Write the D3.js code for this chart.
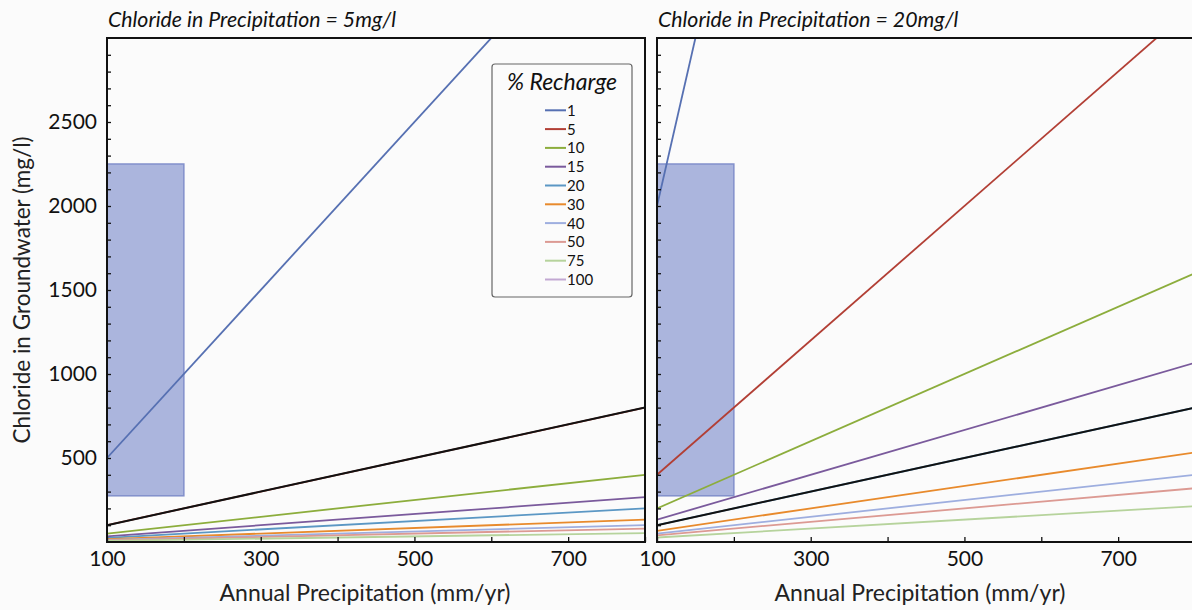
<!DOCTYPE html>
<html>
<head>
<meta charset="utf-8">
<script src="https://cdn.jsdelivr.net/npm/d3@7/dist/d3.min.js"></script>
<style>
  html, body { margin: 0; padding: 0; background: #fbfbfb; }
  svg { display: block; font-family: Lato, "Open Sans", sans-serif; }
</style>
</head>
<body>
<svg id="chart" width="1192" height="610"></svg>
<script>
// Recharge scenarios (% of annual precipitation)
const rechargePct = [1, 5, 10, 15, 20, 30, 40, 50, 75, 100];
const seriesColors = ["#5670b2", "#b23f35", "#8cad3c", "#7a5a9c", "#5b97c4",
                      "#e88a2c", "#9eaedf", "#dc9a93", "#b6d39c", "#c2a8d2"];

// Precipitation range covered by every line (mm/yr)
const precipRange = [100, 800];

// Chloride in precipitation for each panel (mg/l)
const precipChloride = [5, 20];
const panelTitles = ["Chloride in Precipitation = 5mg/l", "Chloride in Precipitation = 20mg/l"];

// Groundwater chloride (mg/l) at 100 and 800 mm/yr, one entry per recharge scenario
// (null: scenario listed in the legend but not plotted)
const gwStart5  = [500, 100, 50, 33.3, 25, 16.7, 12.5, 10, 6.7, null];
const gwEnd5    = [4000, 800, 400, 266.7, 200, 133.3, 100, 80, 53.3, null];
const gwStart20 = [2000, 400, 200, 133.3, 100, 66.7, 50, 40, 26.7, null];
const gwEnd20   = [16000, 3200, 1600, 1066.7, 800, 533.3, 400, 320, 213.3, null];

// Reference line (black) at 100 and 800 mm/yr
const refStart = 100, refEnd = 800;

// Shaded observation window: precipitation and groundwater chloride bounds
const boxPrecip = [100, 200];
const boxChloride = [275, 2250];

// Axis ticks
const xTickLabels = [100, 300, 500, 700];
const xMinorTicks = [100, 200, 300, 400, 500, 600, 700, 800];
const yTickLabels = [500, 1000, 1500, 2000, 2500];
const yMinorTicks = d3.range(100, 3000, 100);

const svg = d3.select("#chart");
const W = 538, plotTop = 38, plotBottom = 542;
const panelLeft = [107, 657];
const panelStarts = [gwStart5, gwStart20];
const panelEnds = [gwEnd5, gwEnd20];

const y = d3.scaleLinear().domain([0, 3000]).range([plotBottom, plotTop]);

panelLeft.forEach((x0, p) => {
  const x = d3.scaleLinear().domain(precipRange).range([x0, x0 + W]);
  const g = svg.append("g");

  const clipId = "clip" + p;
  svg.append("clipPath").attr("id", clipId)
    .append("rect").attr("x", x0).attr("y", plotTop).attr("width", W).attr("height", plotBottom - plotTop);

  const plot = g.append("g").attr("clip-path", `url(#${clipId})`);

  // shaded window
  plot.append("rect")
    .attr("x", x(boxPrecip[0])).attr("y", y(boxChloride[1]))
    .attr("width", x(boxPrecip[1]) - x(boxPrecip[0]))
    .attr("height", y(boxChloride[0]) - y(boxChloride[1]))
    .attr("fill", "#5b6fc0").attr("fill-opacity", 0.5)
    .attr("stroke", "#8290cb").attr("stroke-width", 1.5);

  const line = d3.line().x(d => x(d[0])).y(d => y(d[1]));

  rechargePct.forEach((r, i) => {
    if (panelStarts[p][i] == null) return;
    plot.append("path")
      .datum([[precipRange[0], panelStarts[p][i]], [precipRange[1], panelEnds[p][i]]])
      .attr("d", line)
      .attr("fill", "none")
      .attr("stroke", seriesColors[i])
      .attr("stroke-width", 1.8);
  });

  plot.append("path")
    .datum([[precipRange[0], refStart], [precipRange[1], refEnd]])
    .attr("d", line)
    .attr("fill", "none").attr("stroke", "#111").attr("stroke-width", 2);

  // inward minor ticks
  const yMinor = g.append("g").attr("transform", `translate(${x0},0)`)
    .call(d3.axisRight(y).tickValues(yMinorTicks).tickSize(4).tickFormat(""));
  yMinor.select(".domain").remove();
  yMinor.selectAll("line").attr("stroke", "#111").attr("stroke-width", 1.3);

  const xMinor = g.append("g").attr("transform", `translate(0,${plotBottom})`)
    .call(d3.axisTop(x).tickValues(xMinorTicks).tickSize(5).tickFormat(""));
  xMinor.select(".domain").remove();
  xMinor.selectAll("line").attr("stroke", "#111").attr("stroke-width", 1.3);

  // tick labels
  const xLab = g.append("g").attr("transform", `translate(0,${plotBottom})`)
    .call(d3.axisBottom(x).tickValues(xTickLabels).tickSize(0).tickPadding(9).tickFormat(d3.format("d")));
  xLab.select(".domain").remove();
  xLab.selectAll("text").attr("font-size", 21).attr("fill", "#111").attr("font-family", "Lato, sans-serif");

  if (p === 0) {
    const yLab = g.append("g").attr("transform", `translate(${x0},0)`)
      .call(d3.axisLeft(y).tickValues(yTickLabels).tickSize(0).tickPadding(10).tickFormat(d3.format("d")));
    yLab.select(".domain").remove();
    yLab.selectAll("text").attr("font-size", 21).attr("fill", "#111").attr("font-family", "Lato, sans-serif");
  }

  // frame
  g.append("rect")
    .attr("x", x0).attr("y", plotTop).attr("width", W).attr("height", plotBottom - plotTop)
    .attr("fill", "none").attr("stroke", "#111").attr("stroke-width", 2);

  // panel title
  g.append("text")
    .attr("x", x0 + 1).attr("y", 27)
    .attr("font-size", 21.3).attr("font-style", "italic").attr("fill", "#111")
    .text(panelTitles[p]);

  // x-axis title
  g.append("text")
    .attr("x", [365, 920][p]).attr("y", 601)
    .attr("text-anchor", "middle").attr("font-size", 23).attr("fill", "#222")
    .text("Annual Precipitation (mm/yr)");
});

// y-axis title
svg.append("text")
  .attr("transform", "translate(30,290) rotate(-90)")
  .attr("text-anchor", "middle").attr("font-size", 22.5).attr("fill", "#222")
  .text("Chloride in Groundwater (mg/l)");

// legend
const lg = svg.append("g");
lg.append("rect").attr("x", 492).attr("y", 64).attr("width", 140).attr("height", 233)
  .attr("rx", 3).attr("fill", "#fbfbfb").attr("stroke", "#666").attr("stroke-width", 1.2);
lg.append("text").attr("x", 562).attr("y", 90).attr("text-anchor", "middle")
  .attr("font-size", 23).attr("font-style", "italic").attr("fill", "#111").text("% Recharge");
rechargePct.forEach((r, i) => {
  const ry = 110.3 + i * 18.8;
  lg.append("line").attr("x1", 545).attr("x2", 566).attr("y1", ry).attr("y2", ry)
    .attr("stroke", seriesColors[i]).attr("stroke-width", 2);
  lg.append("text").attr("x", 567).attr("y", ry + 5.5)
    .attr("font-size", 15).attr("fill", "#111").text(r);
});
</script>
</body>
</html>
